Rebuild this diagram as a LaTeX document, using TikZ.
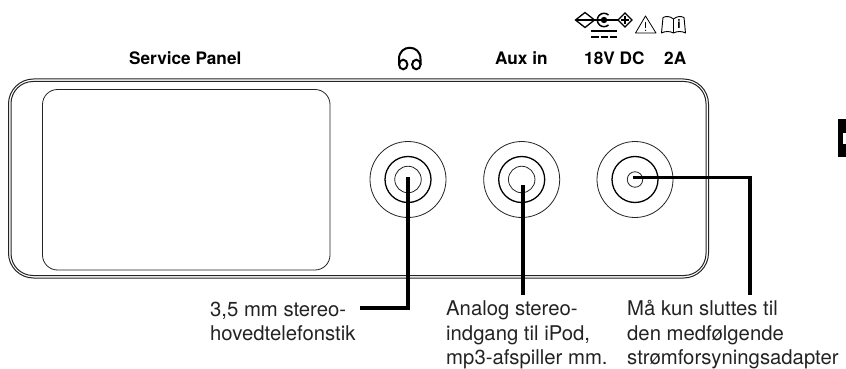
\documentclass[tikz,border=0pt]{standalone}
\usepackage{fontspec}
\setmainfont{TeX Gyre Heros}
\usepackage{xcolor}
\definecolor{inkgray}{RGB}{35,35,35}
\tikzset{
  hairline/.style={line width=0.8pt, inkgray},
  jackouter/.style={draw, circle, hairline, inner sep=0pt, minimum size=76pt},
  jackmid/.style={draw, circle, line width=1.3pt, inner sep=0pt, minimum size=46pt},
  jackinner/.style={draw, circle, hairline, inner sep=0pt, minimum size=26.5pt},
  leader/.style={line width=3.4pt, black},
  heading/.style={font=\fontsize{17.2}{20}\selectfont\bfseries, anchor=base west, inner sep=0pt},
  callout/.style={font=\fontsize{20.3}{24.3}\selectfont, align=left, anchor=base west, inner sep=0pt, text=inkgray}
}
\begin{document}
\begin{tikzpicture}[x=1pt, y=-1pt]
\useasboundingbox (0,0) rectangle (846,369);
% panel
\draw[hairline, line width=1pt, rounded corners=25pt] (8.5,79) rectangle (708.5,278);
\draw[hairline, line width=1pt, rounded corners=22pt] (11,81.5) rectangle (706,275.5);
\draw[hairline, rounded corners=15pt] (42.5,89.5) rectangle (330,270);
% jacks
\node[jackouter] (phoneout) at (408,179.5) {};
\node[jackmid] (phonemid) at (408,179.5) {};
\node[jackinner] (phonein) at (408,179.5) {};
\node[jackouter] (auxout) at (521.7,179.5) {};
\node[jackmid] (auxmid) at (521.7,179.5) {};
\node[jackinner] (auxin) at (521.7,179.5) {};
\node[jackouter] (dcout) at (635,179.5) {};
\node[jackmid] (dcmid) at (635,179.5) {};
\node[jackinner, minimum size=15.5pt] (dcin) at (635,179.5) {};
% headings
\node[heading] (service) at (129,64) {Service Panel};
\node[heading] (auxlabel) at (495,64) {Aux in};
\node[heading] (dclabel) at (584,64) {18V DC};
\node[heading] (amplabel) at (664,64) {2A};
% headphones
\draw[line width=2pt] (399,65) -- (399,59) .. controls (399,44) and (420.5,44) .. (420.5,59) -- (420.5,65);
\draw[line width=2pt] (403.2,64.5) ellipse[x radius=4.2, y radius=4.8];
\draw[line width=2pt] (416.3,64.5) ellipse[x radius=4.2, y radius=4.8];
% polarity symbol
\draw[line width=1.3pt] (575.5,20) -- (585,12.5) -- (594.5,20) -- (585,27.5) -- cycle;
\draw[line width=1.3pt] (618,20) -- (625,13) -- (632,20) -- (625,27) -- cycle;
\draw[line width=1.3pt] (575.5,20) -- (618,20);
\draw[line width=1.1pt] (625,16) -- (625,24) (621,20) -- (629,20);
\draw[line width=1.5pt] (608.5,15) arc[start angle=-48, end angle=-312, radius=6.7];
\fill (604,20) circle[radius=3.2];
\draw[line width=2pt] (591,31) -- (617,31);
\draw[line width=2.6pt] (591,37) -- (599,37) (600.5,37) -- (608,37) (609.5,37) -- (617,37);
% warning triangle
\draw[line width=0.8pt, line join=round] (635.5,33) -- (645.5,16) -- (656,33) -- cycle;
\draw[line width=1pt] (645.5,22) -- (645.5,28);
\fill (645.5,30.3) circle[radius=0.7];
% manual
\draw[line width=0.9pt, line join=round] (673.5,19) .. controls (670,16) and (666,16) .. (663,17.5) -- (661.5,33) .. controls (665,31) and (670,31) .. (673.5,33) .. controls (677,31) and (682,31) .. (685.5,33) -- (684,17.5) .. controls (681,16) and (677,16) .. (673.5,19) -- cycle;
\draw[line width=0.9pt] (673.5,19) -- (673.5,33);
\node[font=\fontsize{12}{12}\selectfont\bfseries, inner sep=0pt] (manuali) at (679,24.5) {i};
% side tab
\fill[black] (838,119) rectangle (846,157);
\fill[white] (843,133) rectangle (846,144);
% callouts
\node[callout] (phonetext) at (210,340.5) {3,5 mm stereo-\\hovedtelefonstik};
\node[callout] (auxtext) at (446,364.5) {Analog stereo-\\indgang til iPod,\\mp3-afspiller mm.};
\node[callout] (dctext) at (627,364.5) {Må kun sluttes til\\den medfølgende\\strømforsyningsadapter};
% leaders
\coordinate (phonestart) at (408,177);
\coordinate (phonebend) at (408,308);
\coordinate (phoneend) at (360,308);
\coordinate (auxstart) at (523,185);
\coordinate (auxend) at (523,295);
\coordinate (dcstart) at (632.7,177.5);
\coordinate (dcbend) at (750,177.5);
\coordinate (dcend) at (750,295);
\draw[leader, line join=miter] (phonestart) -- (phonebend) -- (phoneend);
\draw[leader] (auxstart) -- (auxend);
\draw[leader, line join=miter] (dcstart) -- (dcbend) -- (dcend);
\end{tikzpicture}
\end{document}
